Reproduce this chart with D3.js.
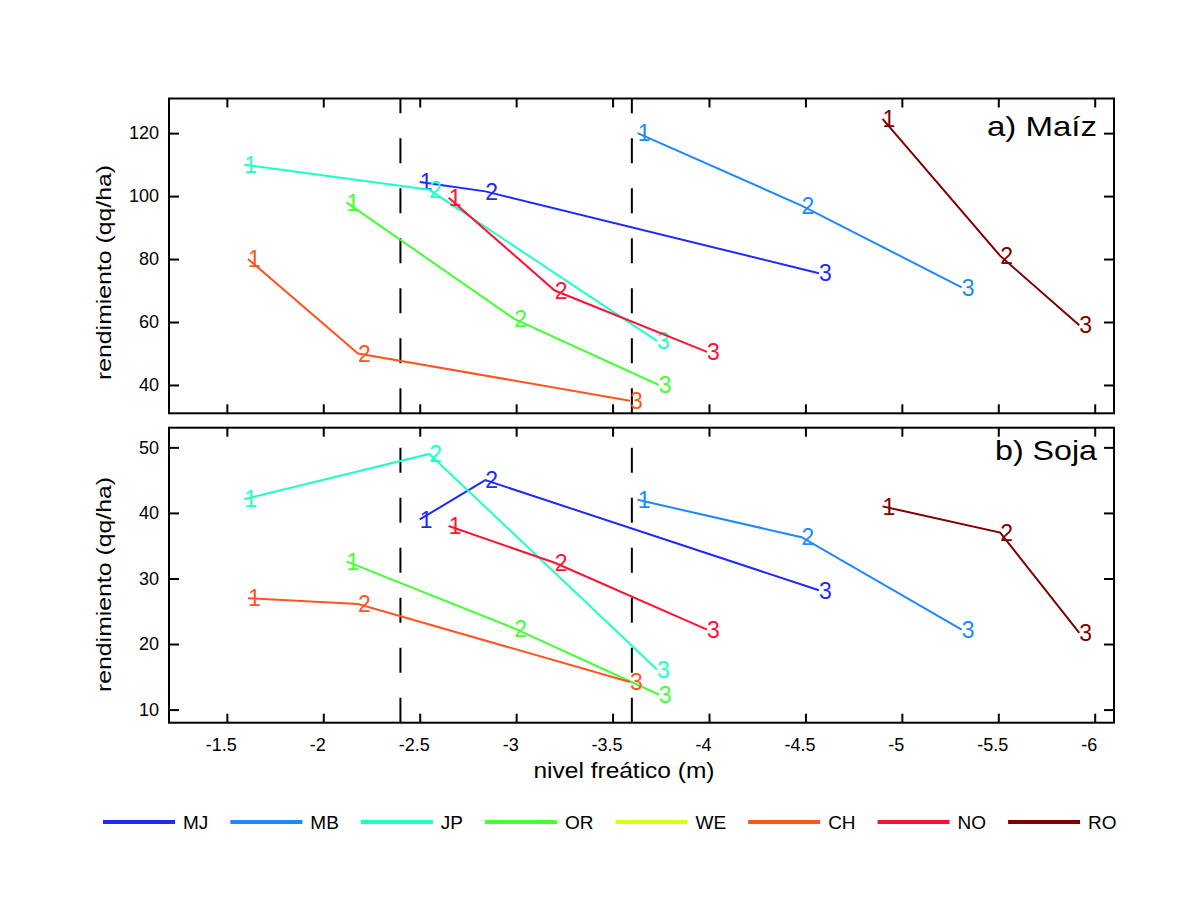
<!DOCTYPE html>
<meta charset="utf-8">
<style>
    body { margin: 0; background: #fff; }
    .axis text { font: 18px "Liberation Sans", Arial, sans-serif; fill: #000; }
    .axis line { stroke: #000; stroke-width: 2px; }
    .axis path { display: none; }
    .box { fill: none; stroke: #000; stroke-width: 2px; }
    .serie { fill: none; stroke-width: 2px; }
    .etiqueta { font: 23px "Liberation Sans", Arial, sans-serif; }
    .label { font-family: "Liberation Sans", Arial, sans-serif; fill: #000; }
    .leyenda text { font: 19px "Liberation Sans", Arial, sans-serif; fill: #000; }
</style>
<body>
<script src="https://d3js.org/d3.v7.min.js"></script>
<script>
    // estaciones (WE solo aparece en la leyenda)
    var estaciones = ["MJ", "MB", "JP", "OR", "WE", "CH", "NO", "RO"];
    var colores = ["#1e28ff", "#1e88ff", "#1fffc4", "#44ff33", "#dcff0f", "#ff5522", "#ff1133", "#800000"];

    // nivel freatico (m) de los anios 1, 2 y 3
    var nivel = [
        [-2.50, -2.84, -4.57],
        [-3.63, -4.48, -5.31],
        [-1.59, -2.55, -3.73],
        [-2.12, -2.99, -3.74],
        [],
        [-1.61, -2.18, -3.59],
        [-2.65, -3.20, -3.99],
        [-4.90, -5.51, -5.92]
    ];

    // rendimiento de maiz (qq/ha)
    var rendMaiz = [
        [104.5, 101.5, 75.5],
        [120, 97, 71],
        [110, 102, 54],
        [98, 61, 40],
        [],
        [80, 50, 35],
        [99.5, 70, 50.5],
        [124.5, 81, 59]
    ];

    // rendimiento de soja (qq/ha)
    var rendSoja = [
        [39, 45, 28.2],
        [42, 36.3, 22.2],
        [42.1, 49, 16.1],
        [32.6, 22.4, 12.3],
        [],
        [27, 26.1, 14.2],
        [38, 32.4, 22.2],
        [41, 37, 21.7]
    ];

    var anios = ["1", "2", "3"];
    var xTicks = [-1.5, -2, -2.5, -3, -3.5, -4, -4.5, -5, -5.5, -6];
    var ticksMaiz = [40, 60, 80, 100, 120];
    var ticksSoja = [10, 20, 30, 40, 50];
    var nivelesLimite = [-2.4, -3.6];

    var left = 169, width = 945;

    var svg = d3.select("body").append("svg")
        .attr("width", 1182)
        .attr("height", 904);

    // eje x invertido (nivel mas profundo a la derecha)
    var x = d3.scaleLinear().domain([-1.2, -6.1]).range([0, width]);

    function panel(top, height, yDomain, yTicks, datos, titulo, tituloLargo, tituloBase, yLabelCentro, conEtiquetasX) {
        var y = d3.scaleLinear().domain(yDomain).range([height, 0]);

        var g = svg.append("g")
            .attr("transform", "translate(" + left + "," + top + ")");

        var clipId = "clip" + Math.round(top);
        g.append("clipPath").attr("id", clipId)
            .append("rect").attr("width", width).attr("height", height);

        // lineas verticales de referencia
        g.selectAll(".limite")
            .data(nivelesLimite)
            .enter().append("line")
            .attr("x1", function(d) { return x(d); })
            .attr("x2", function(d) { return x(d); })
            .attr("y1", height)
            .attr("y2", 0)
            .attr("stroke", "#000")
            .attr("stroke-width", 2)
            .attr("stroke-dasharray", "25,25");

        // ejes (ticks hacia adentro)
        g.append("g")
            .attr("class", "axis")
            .attr("transform", "translate(0," + height + ")")
            .call(d3.axisBottom(x).tickValues(xTicks).tickSize(-9).tickPadding(16)
                .tickFormat(function(d) { return conEtiquetasX ? String(d) : ""; }))
            .selectAll("text").attr("dx", -6);

        g.append("g")
            .attr("class", "axis")
            .call(d3.axisTop(x).tickValues(xTicks).tickSize(-9).tickFormat(""));

        g.append("g")
            .attr("class", "axis")
            .call(d3.axisLeft(y).tickValues(yTicks).tickSize(-10).tickPadding(10));

        g.append("g")
            .attr("class", "axis")
            .attr("transform", "translate(" + width + ",0)")
            .call(d3.axisRight(y).tickValues(yTicks).tickSize(-10).tickFormat(""));

        var linea = d3.line()
            .x(function(d) { return x(d[0]); })
            .y(function(d) { return y(d[1]); });

        var series = estaciones.map(function(e, i) {
            return {
                color: colores[i],
                puntos: nivel[i].map(function(v, j) { return [v, datos[i][j], anios[j]]; })
            };
        }).filter(function(s) { return s.puntos.length > 0; });

        var capa = g.append("g").attr("clip-path", "url(#" + clipId + ")");

        series.forEach(function(s) {
            capa.append("path")
                .datum(s.puntos)
                .attr("class", "serie")
                .attr("stroke", s.color)
                .attr("d", linea);

            capa.selectAll(null)
                .data(s.puntos)
                .enter().append("text")
                .attr("class", "etiqueta")
                .attr("x", function(d) { return x(d[0]); })
                .attr("y", function(d) { return y(d[1]); })
                .attr("dy", "0.36em")
                .attr("fill", s.color)
                .text(function(d) { return d[2]; });
        });

        // caja
        g.append("rect")
            .attr("class", "box")
            .attr("width", width)
            .attr("height", height);

        // titulo del panel
        g.append("text")
            .attr("class", "label")
            .attr("x", width - 17)
            .attr("y", tituloBase)
            .attr("text-anchor", "end")
            .attr("textLength", tituloLargo)
            .attr("lengthAdjust", "spacingAndGlyphs")
            .style("font-size", "28px")
            .text(titulo);

        // etiqueta eje y
        svg.append("text")
            .attr("class", "label")
            .attr("transform", "translate(111," + yLabelCentro + ") rotate(-90)")
            .attr("text-anchor", "middle")
            .attr("textLength", 215)
            .attr("lengthAdjust", "spacingAndGlyphs")
            .style("font-size", "20px")
            .text("rendimiento (qq/ha)");
    }

    panel(98.5, 314.8, [31, 131], ticksMaiz, rendMaiz, "a) Maíz", 110, 37.5, 272.5, false);
    panel(427.7, 295, [8, 53], ticksSoja, rendSoja, "b) Soja", 102, 32.3, 584.5, true);

    // etiqueta eje x
    svg.append("text")
        .attr("class", "label")
        .attr("x", 624)
        .attr("y", 778)
        .attr("text-anchor", "middle")
        .attr("textLength", 181)
        .attr("lengthAdjust", "spacingAndGlyphs")
        .style("font-size", "22px")
        .text("nivel freático (m)");

    // leyenda
    var leyenda = svg.append("g").attr("class", "leyenda");
    var lx = 103;
    estaciones.forEach(function(e, i) {
        leyenda.append("line")
            .attr("x1", lx).attr("x2", lx + 72)
            .attr("y1", 822).attr("y2", 822)
            .attr("stroke", colores[i])
            .attr("stroke-width", 4);
        var t = leyenda.append("text")
            .attr("x", lx + 80)
            .attr("y", 829)
            .text(e);
        lx += 80 + t.node().getComputedTextLength() + 22;
    });
</script>
</body>
